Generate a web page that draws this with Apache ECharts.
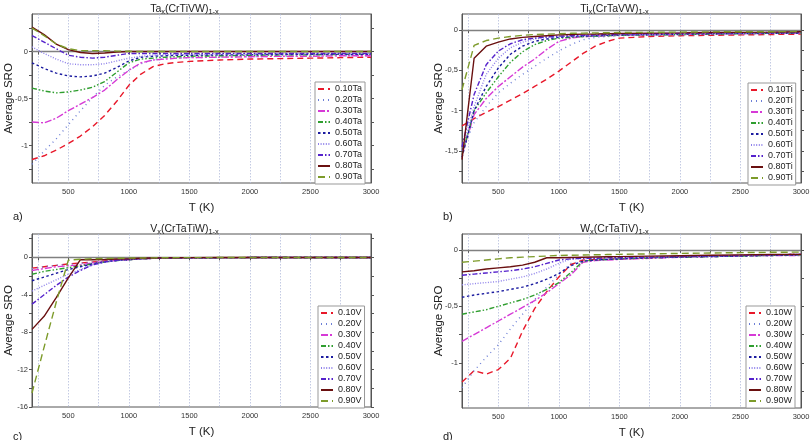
<!DOCTYPE html>
<html><head><meta charset="utf-8">
<script src="https://cdn.jsdelivr.net/npm/echarts@6/dist/echarts.min.js"></script>
<style>html,body{margin:0;padding:0;background:#fff}#c{width:810px;height:440px}</style>
</head><body><div id="c"></div>
<script>
const temps = [200,300,400,500,600,700,800,900,1000,1100,1200,1300,1400,1500,1750,2000,2250,2500,2750,3000];
const fractions = ['0.10','0.20','0.30','0.40','0.50','0.60','0.70','0.80','0.90'];

// Panel a: Ta_x(CrTiVW)_1-x
const ta10 = [-1.15,-1.11,-1.05,-0.98,-0.9,-0.8,-0.68,-0.53,-0.36,-0.24,-0.16,-0.13,-0.115,-0.105,-0.09,-0.08,-0.075,-0.07,-0.065,-0.06];
const ta20 = [-1.2,-1.06,-0.93,-0.78,-0.63,-0.49,-0.36,-0.27,-0.2,-0.13,-0.09,-0.075,-0.07,-0.065,-0.06,-0.055,-0.05,-0.05,-0.045,-0.045];
const ta30 = [-0.75,-0.76,-0.71,-0.63,-0.56,-0.49,-0.41,-0.3,-0.2,-0.12,-0.09,-0.08,-0.07,-0.065,-0.06,-0.055,-0.05,-0.05,-0.045,-0.045];
const ta40 = [-0.39,-0.42,-0.44,-0.43,-0.41,-0.38,-0.32,-0.22,-0.12,-0.08,-0.07,-0.06,-0.055,-0.05,-0.045,-0.04,-0.035,-0.035,-0.03,-0.03];
const ta50 = [-0.12,-0.18,-0.23,-0.26,-0.27,-0.26,-0.23,-0.17,-0.1,-0.06,-0.05,-0.045,-0.04,-0.04,-0.035,-0.035,-0.03,-0.03,-0.03,-0.03];
const ta60 = [0.05,-0.02,-0.08,-0.13,-0.14,-0.14,-0.13,-0.1,-0.07,-0.05,-0.04,-0.035,-0.03,-0.03,-0.025,-0.025,-0.02,-0.02,-0.02,-0.02];
const ta70 = [0.17,0.1,0.03,-0.04,-0.06,-0.07,-0.06,-0.04,-0.02,-0.02,-0.02,-0.02,-0.02,-0.02,-0.02,-0.02,-0.02,-0.02,-0.02,-0.02];
const ta80 = [0.26,0.18,0.08,0.02,-0.01,-0.02,-0.015,-0.005,0,0,0,0,0,0,0,0,0,0,0,0];
const ta90 = [0.25,0.17,0.08,0.03,0.01,0.01,0.01,0.005,0.003,0,0,0,0,0,0,0,0,0,0,0];

// Panel b: Ti_x(CrTaVW)_1-x
const ti10 = [-1.19,-1.1,-1.02,-0.95,-0.87,-0.79,-0.7,-0.61,-0.51,-0.4,-0.29,-0.2,-0.14,-0.1,-0.08,-0.07,-0.065,-0.06,-0.055,-0.05];
const ti20 = [-1.5,-1.15,-0.95,-0.78,-0.66,-0.55,-0.45,-0.35,-0.26,-0.18,-0.12,-0.09,-0.08,-0.07,-0.065,-0.06,-0.055,-0.05,-0.045,-0.04];
const ti30 = [-1.55,-1.05,-0.85,-0.7,-0.58,-0.46,-0.36,-0.24,-0.14,-0.1,-0.08,-0.075,-0.07,-0.065,-0.06,-0.055,-0.05,-0.045,-0.04,-0.04];
const ti40 = [-1.55,-1.0,-0.78,-0.58,-0.4,-0.27,-0.18,-0.13,-0.1,-0.09,-0.08,-0.075,-0.07,-0.065,-0.06,-0.055,-0.05,-0.045,-0.04,-0.04];
const ti50 = [-1.58,-1.0,-0.7,-0.47,-0.3,-0.2,-0.14,-0.11,-0.09,-0.08,-0.075,-0.07,-0.065,-0.06,-0.055,-0.05,-0.045,-0.04,-0.04,-0.035];
const ti60 = [-1.5,-0.95,-0.55,-0.35,-0.22,-0.15,-0.11,-0.09,-0.08,-0.075,-0.07,-0.065,-0.06,-0.06,-0.055,-0.05,-0.045,-0.04,-0.035,-0.035];
const ti70 = [-1.45,-0.8,-0.43,-0.26,-0.17,-0.12,-0.1,-0.085,-0.075,-0.07,-0.065,-0.06,-0.055,-0.05,-0.045,-0.04,-0.04,-0.035,-0.03,-0.03];
const ti80 = [-1.61,-0.35,-0.2,-0.15,-0.11,-0.09,-0.08,-0.07,-0.06,-0.055,-0.05,-0.048,-0.045,-0.042,-0.038,-0.035,-0.03,-0.028,-0.025,-0.02];
const ti90 = [-0.74,-0.19,-0.13,-0.1,-0.08,-0.065,-0.055,-0.05,-0.045,-0.04,-0.038,-0.035,-0.033,-0.03,-0.028,-0.025,-0.022,-0.02,-0.02,-0.018];

// Panel c: V_x(CrTaTiW)_1-x
const v10 = [-1.15,-1.0,-0.85,-0.7,-0.6,-0.5,-0.38,-0.28,-0.2,-0.13,-0.1,-0.07,-0.05,-0.04,-0.03,-0.02,-0.02,-0.01,-0.01,-0.01];
const v20 = [-1.2,-1.0,-0.85,-0.75,-0.65,-0.5,-0.4,-0.3,-0.2,-0.13,-0.1,-0.07,-0.05,-0.04,-0.03,-0.02,-0.02,-0.01,-0.01,-0.01];
const v30 = [-1.4,-1.2,-1.0,-0.9,-0.8,-0.6,-0.45,-0.33,-0.25,-0.15,-0.1,-0.07,-0.05,-0.04,-0.03,-0.02,-0.02,-0.01,-0.01,-0.01];
const v40 = [-1.8,-1.5,-1.3,-1.1,-0.9,-0.7,-0.5,-0.35,-0.25,-0.15,-0.1,-0.07,-0.05,-0.04,-0.03,-0.02,-0.02,-0.01,-0.01,-0.01];
const v50 = [-2.5,-2.1,-1.7,-1.3,-1.0,-0.7,-0.45,-0.33,-0.25,-0.15,-0.1,-0.07,-0.05,-0.04,-0.03,-0.02,-0.02,-0.01,-0.01,-0.01];
const v60 = [-3.6,-3.0,-2.4,-1.8,-1.3,-0.8,-0.5,-0.35,-0.25,-0.15,-0.1,-0.07,-0.05,-0.04,-0.03,-0.02,-0.02,-0.01,-0.01,-0.01];
const v70 = [-5.0,-4.0,-3.0,-2.1,-1.4,-0.8,-0.5,-0.3,-0.2,-0.12,-0.1,-0.07,-0.05,-0.04,-0.03,-0.02,-0.02,-0.01,-0.01,-0.01];
const v80 = [-7.7,-6.3,-4.3,-2.2,-0.25,-0.25,-0.22,-0.18,-0.15,-0.1,-0.07,-0.05,-0.04,-0.03,-0.02,-0.02,-0.01,-0.01,-0.01,-0.01];
const v90 = [-14.5,-9.6,-4.8,-0.3,-0.2,-0.15,-0.12,-0.1,-0.08,-0.06,-0.05,-0.04,-0.03,-0.03,-0.02,-0.02,-0.01,-0.01,-0.01,-0.01];

// Panel d: W_x(CrTaTiV)_1-x
const w10 = [-1.17,-1.07,-1.1,-1.06,-0.96,-0.72,-0.52,-0.37,-0.24,-0.13,-0.09,-0.085,-0.08,-0.08,-0.07,-0.06,-0.055,-0.05,-0.045,-0.04];
const w20 = [-1.22,-1.07,-0.95,-0.84,-0.7,-0.57,-0.44,-0.33,-0.22,-0.12,-0.1,-0.09,-0.085,-0.08,-0.07,-0.06,-0.055,-0.05,-0.045,-0.04];
const w30 = [-0.81,-0.75,-0.69,-0.63,-0.57,-0.51,-0.45,-0.38,-0.3,-0.22,-0.11,-0.095,-0.09,-0.085,-0.075,-0.065,-0.06,-0.055,-0.05,-0.05];
const w40 = [-0.57,-0.55,-0.53,-0.5,-0.47,-0.44,-0.4,-0.35,-0.29,-0.2,-0.1,-0.09,-0.085,-0.08,-0.07,-0.065,-0.06,-0.055,-0.05,-0.045];
const w50 = [-0.42,-0.4,-0.385,-0.37,-0.35,-0.33,-0.3,-0.26,-0.21,-0.14,-0.1,-0.09,-0.085,-0.08,-0.07,-0.065,-0.06,-0.055,-0.05,-0.045];
const w60 = [-0.31,-0.3,-0.29,-0.28,-0.26,-0.24,-0.21,-0.17,-0.12,-0.08,-0.08,-0.075,-0.075,-0.07,-0.065,-0.06,-0.055,-0.05,-0.045,-0.04];
const w70 = [-0.225,-0.215,-0.205,-0.195,-0.185,-0.17,-0.15,-0.12,-0.09,-0.08,-0.075,-0.075,-0.07,-0.07,-0.065,-0.06,-0.055,-0.05,-0.045,-0.04];
const w80 = [-0.195,-0.185,-0.17,-0.16,-0.15,-0.135,-0.11,-0.07,-0.07,-0.068,-0.066,-0.064,-0.062,-0.06,-0.056,-0.052,-0.048,-0.045,-0.042,-0.04];
const w90 = [-0.11,-0.1,-0.09,-0.08,-0.07,-0.065,-0.06,-0.055,-0.05,-0.048,-0.046,-0.044,-0.042,-0.04,-0.036,-0.032,-0.028,-0.025,-0.022,-0.02];

const xLabelValues = [500,1000,1500,2000,2500,3000];
const xTickValues = [250,500,750,1000,1250,1500,1750,2000,2250,2500,2750];

const panels = [
  {title:['Ta','(CrTiVW)'], el:'Ta', tag:'a)', series:[ta10,ta20,ta30,ta40,ta50,ta60,ta70,ta80,ta90],
   ymin:-1.4, ymax:0.4, yLabels:[-1,-0.5,0], yTicks:[-1.25,-1,-0.75,-0.5,-0.25,0,0.25]},
  {title:['Ti','(CrTaVW)'], el:'Ti', tag:'b)', series:[ti10,ti20,ti30,ti40,ti50,ti60,ti70,ti80,ti90],
   ymin:-1.9, ymax:0.2, yLabels:[-1.5,-1,-0.5,0], yTicks:[-1.75,-1.5,-1.25,-1,-0.75,-0.5,-0.25,0]},
  {title:['V','(CrTaTiW)'], el:'V', tag:'c)', series:[v10,v20,v30,v40,v50,v60,v70,v80,v90],
   ymin:-16, ymax:2.5, yLabels:[-16,-12,-8,-4,0], yTicks:[-16,-14,-12,-10,-8,-6,-4,-2,0,2]},
  {title:['W','(CrTaTiV)'], el:'W', tag:'d)', series:[w10,w20,w30,w40,w50,w60,w70,w80,w90],
   ymin:-1.4, ymax:0.14, yLabels:[-1,-0.5,0], yTicks:[-1.25,-1,-0.75,-0.5,-0.25,0]}
];

const gridBoxes = [
  {left:32, top:14, width:339, height:169},
  {left:462, top:14, width:339, height:169},
  {left:32, top:234, width:339, height:173},
  {left:462, top:234, width:339, height:174}
];
const legendBoxes = [
  {left:315, top:82}, {left:748, top:83}, {left:318, top:306}, {left:746, top:306}
];
const tagTops = [206, 206, 426, 426];
const styles = [
  {color:'#e8182a', type:[6,4]},
  {color:'#6d7fd6', type:[1,4]},
  {color:'#d63ad6', type:[7,2,2,2]},
  {color:'#2f9e2f', type:[5,2,1.5,2,1.5,2]},
  {color:'#1c1ca0', type:[2.5,2.5]},
  {color:'#8e80ea', type:[1,1.6]},
  {color:'#5522cc', type:[5,2,1.5,2]},
  {color:'#6a1010', type:'solid'},
  {color:'#7d9b2a', type:[7,4]}
];
const FONT = "'Liberation Sans', Arial, sans-serif";
const fmt = v => String(v).replace('.', ',');

const option = {animation:false, backgroundColor:'#fff', grid:[], xAxis:[], yAxis:[], series:[], legend:[], title:[]};

panels.forEach((p, k) => {
  const g = gridBoxes[k];
  option.grid.push(Object.assign({show:true, borderColor:'#555', borderWidth:1, backgroundColor:'transparent', containLabel:false, outerBoundsMode:'none'}, g));
  option.xAxis.push({
    type:'value', gridIndex:k, min:200, max:3000,
    name:'T (K)', nameLocation:'middle', nameGap:19,
    nameTextStyle:{fontSize:11.5, color:'#222', fontFamily:FONT},
    axisLine:{show:true, lineStyle:{color:'#555', width:1}},
    axisTick:{show:true, length:3, customValues:xTickValues, lineStyle:{color:'#555'}},
    axisLabel:{customValues:xLabelValues, formatter:v => String(v), fontSize:7.5, color:'#333', fontFamily:FONT, margin:5},
    splitLine:{show:true, lineStyle:{color:'#b4bcdc', type:[1.5,1.5], width:0.8}}
  });
  option.yAxis.push({
    type:'value', gridIndex:k, min:p.ymin, max:p.ymax, position:'left',
    name:'Average SRO', nameLocation:'middle', nameGap:17, nameMoveOverlap:false,
    nameTextStyle:{fontSize:11.5, color:'#222', fontFamily:FONT},
    axisLine:{show:true, onZero:false, lineStyle:{color:'#555', width:1}},
    axisTick:{show:true, length:3, customValues:p.yTicks, lineStyle:{color:'#555'}},
    axisLabel:{customValues:p.yLabels, formatter:fmt, fontSize:7.5, color:'#333', fontFamily:FONT, margin:4},
    splitLine:{show:false}
  });
  option.yAxis.push({
    type:'value', gridIndex:k, min:p.ymin, max:p.ymax, position:'right',
    axisLine:{show:true, onZero:false, lineStyle:{color:'#555', width:1}},
    axisTick:{show:true, length:3, customValues:p.yTicks, lineStyle:{color:'#555'}},
    axisLabel:{show:false}, splitLine:{show:false}
  });
  const names = [];
  p.series.forEach((arr, j) => {
    const name = fractions[j] + p.el;
    names.push(name);
    const s = {
      name, type:'line', xAxisIndex:k, yAxisIndex:2*k, symbol:'none', showSymbol:false,
      data: temps.map((t, i) => [t, arr[i]]),
      lineStyle:{color:styles[j].color, type:styles[j].type, width:1.4},
      itemStyle:{color:styles[j].color}, z:2+j, clip:true
    };
    if (j === 0) {
      s.markLine = {silent:true, symbol:'none', label:{show:false},
        lineStyle:{color:'#808080', type:'solid', width:1.3}, data:[{yAxis:0}]};
    }
    option.series.push(s);
  });
  option.legend.push(Object.assign({
    orient:'vertical', data:names, itemWidth:12, itemHeight:6, itemGap:1,
    padding:[2,3,2,2], borderColor:'#999', borderWidth:1, backgroundColor:'#fff',
    itemStyle:{opacity:0, borderWidth:0},
    textStyle:{fontSize:9, color:'#222', fontFamily:FONT, lineHeight:10}, selectedMode:false
  }, legendBoxes[k]));
  option.title.push({
    text:'{n|' + p.title[0] + '}{s|x}{n|' + p.title[1] + '}{s|1-x}',
    left: g.left + g.width/2 - 22, top: g.top - 16, textAlign:'center',
    textStyle:{fontWeight:'normal', rich:{n:{fontSize:10.5, color:'#222', fontFamily:FONT, fontWeight:'normal'}, s:{fontSize:7.5, color:'#222', fontFamily:FONT, fontWeight:'normal', padding:[5,0,0,0]}}}
  });
  option.title.push({
    text:p.tag, left: g.left - 24, top: tagTops[k],
    textStyle:{fontSize:11, fontWeight:'normal', color:'#222', fontFamily:FONT}
  });
});

const chart = echarts.init(document.getElementById('c'), null, {renderer:'canvas'});
chart.setOption(option);
</script>
</body></html>
